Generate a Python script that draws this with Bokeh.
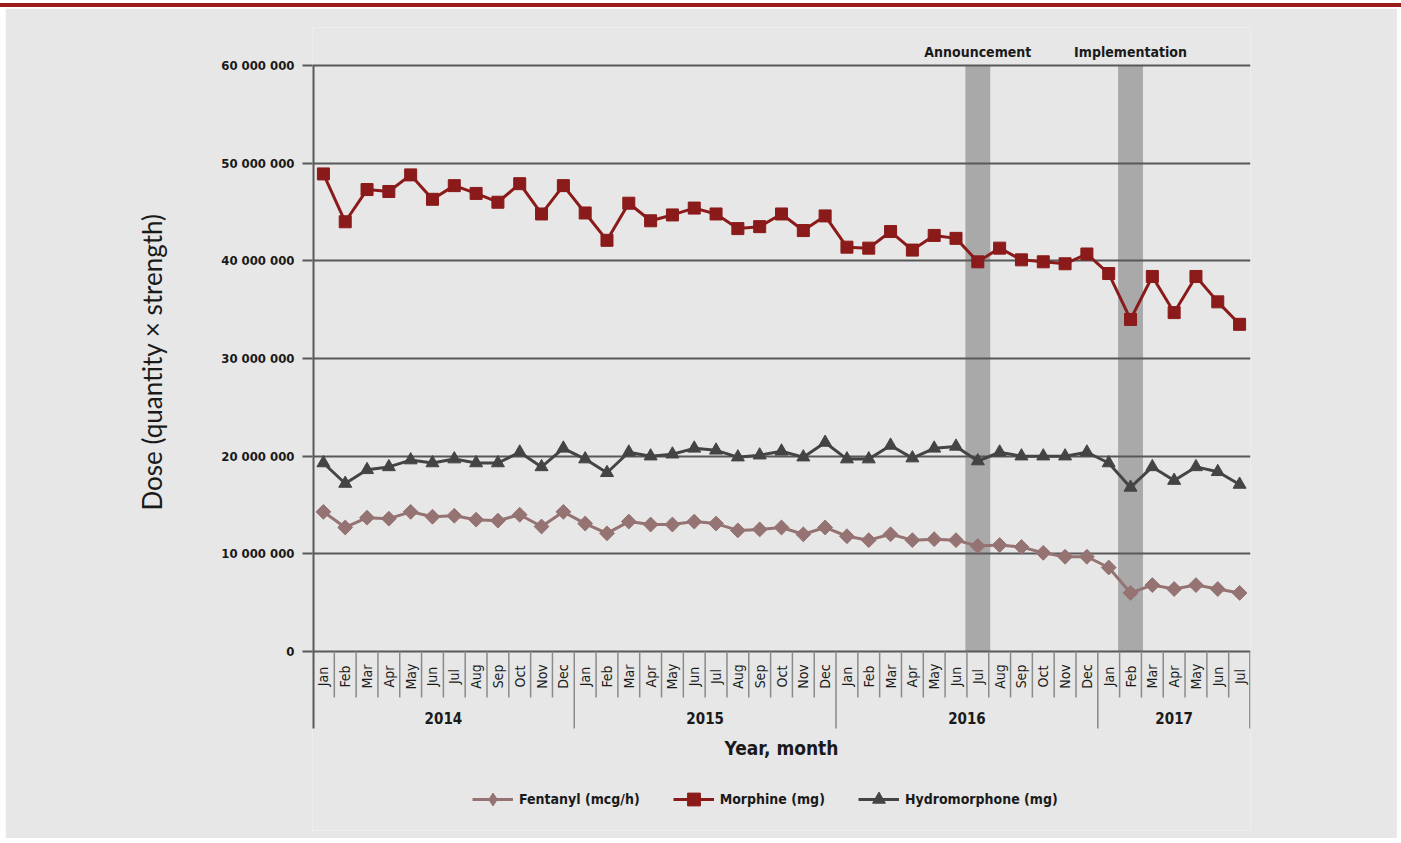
from math import pi
from bokeh.plotting import figure
from bokeh.models import Range1d, FixedTicker, Legend, LegendItem, Title, Div
from bokeh.layouts import column
from bokeh.embed import file_html
from bokeh.resources import INLINE
from bokeh.core.properties import value

# ---------------- data ----------------
years = ["2014", "2015", "2016", "2017"]
months_per_year = [12, 12, 12, 7]
month_names = ["Jan", "Feb", "Mar", "Apr", "May", "Jun",
               "Jul", "Aug", "Sep", "Oct", "Nov", "Dec"]

morphine = [48.9, 44.0, 47.3, 47.1, 48.8, 46.3, 47.7, 46.9, 46.0, 47.9, 44.8, 47.7,
            44.9, 42.1, 45.9, 44.1, 44.7, 45.4, 44.8, 43.3, 43.5, 44.8, 43.1, 44.6,
            41.4, 41.3, 43.0, 41.1, 42.6, 42.3, 39.9, 41.3, 40.1, 39.9, 39.7, 40.7,
            38.7, 34.0, 38.4, 34.7, 38.4, 35.8, 33.5]
hydromorphone = [19.3, 17.2, 18.6, 18.9, 19.6, 19.3, 19.7, 19.3, 19.3, 20.4, 18.9, 20.8,
                 19.7, 18.3, 20.4, 20.0, 20.2, 20.8, 20.6, 19.9, 20.1, 20.5, 19.9, 21.4,
                 19.7, 19.7, 21.1, 19.8, 20.8, 21.0, 19.5, 20.4, 20.0, 20.0, 20.0, 20.4,
                 19.3, 16.8, 18.9, 17.5, 18.9, 18.4, 17.1]
fentanyl = [14.3, 12.7, 13.7, 13.6, 14.3, 13.8, 13.9, 13.5, 13.4, 14.0, 12.8, 14.3,
            13.1, 12.1, 13.3, 13.0, 13.0, 13.3, 13.1, 12.4, 12.5, 12.7, 12.0, 12.7,
            11.8, 11.4, 12.0, 11.4, 11.5, 11.4, 10.8, 10.9, 10.7, 10.1, 9.7, 9.7,
            8.6, 6.0, 6.8, 6.4, 6.8, 6.4, 6.0]
SCALE = 1_000_000  # values above are in millions

y_ticks = [0, 10_000_000, 20_000_000, 30_000_000, 40_000_000, 50_000_000, 60_000_000]
y_tick_labels = ["0", "10 000 000", "20 000 000", "30 000 000",
                 "40 000 000", "50 000 000", "60 000 000"]

event_labels = ["Announcement", "Implementation"]
event_months = [("2016", "Jul"), ("2017", "Feb")]

series_names = ["Fentanyl (mcg/h)", "Morphine (mg)", "Hydromorphone (mg)"]
y_title = "Dose (quantity × strength)"
x_title = "Year, month"

# ---------------- layout / style ----------------
BG = "#e6e7e6"
GRID = "#585858"
SEP = "#8a8a8a"
BAND = "#a9a9a9"
C_MOR = "#8b1a1a"
C_HYD = "#444444"
C_FEN = "#967373"
RED = "#9b1b1b"
TXT = "#1a1a1a"
NARROW = "DejaVu Sans Condensed"
HUMAN = "Lato"

FRAME_W = 938
PX_PER_UNIT = 586 / 60_000_000          # 0..60M spans 586 px
Y_AXIS_TOP = 60_000_000
Y_AXIS_BOTTOM = -77 / PX_PER_UNIT       # axis line / year separators end 77 px below zero
Y_MIN = -179 / PX_PER_UNIT              # frame continues down to hold title + legend
Y_MAX = Y_AXIS_TOP + 38 / PX_PER_UNIT   # room for event labels above
FRAME_H = 179 + 586 + 38

labels = [(y, m) for y, n in zip(years, months_per_year) for m in month_names[:n]]
N = len(labels)
xs = [i + 0.5 for i in range(N)]
mor = [v * SCALE for v in morphine]
hyd = [v * SCALE for v in hydromorphone]
fen = [v * SCALE for v in fentanyl]

p = figure(frame_width=FRAME_W, frame_height=FRAME_H, output_backend="svg",
           toolbar_location=None, tools="", title=None, x_axis_type=None,
           x_range=Range1d(0, N), y_range=Range1d(Y_MIN, Y_MAX),
           min_border_left=307, min_border_right=147, min_border_top=19, min_border_bottom=8,
           margin=(0, 0, 0, 5),
           background_fill_color=BG, border_fill_color=BG, outline_line_color=None)

# y axis (line drawn separately so it stops at the category area)
yax = p.yaxis[0]
yax.ticker = FixedTicker(ticks=y_ticks)
yax.major_label_overrides = {t: s for t, s in zip(y_ticks, y_tick_labels)}
yax.axis_line_color = None
yax.major_tick_line_color = GRID
yax.major_tick_line_width = 2
yax.major_tick_out = 10
yax.major_tick_in = 0
yax.minor_tick_line_color = None
yax.major_label_standoff = 8
yax.major_label_text_font = NARROW
yax.major_label_text_font_style = "bold"
yax.major_label_text_font_size = "13px"
yax.major_label_text_color = TXT
p.segment(x0=[0], x1=[0], y0=[Y_AXIS_BOTTOM], y1=[Y_AXIS_TOP], line_color=GRID, line_width=4)

p.ygrid.ticker = FixedTicker(ticks=y_ticks)
p.ygrid.grid_line_color = GRID
p.ygrid.grid_line_width = 2

p.add_layout(Title(text=y_title, align="left", offset=320, standoff=102, text_font=HUMAN,
                   text_font_size="26px", text_font_style="normal", text_color=TXT), "left")

# event bands and labels
ev_idx = [labels.index(e) for e in event_months]
p.quad(left=[i + 0.5 - 0.57 for i in ev_idx], right=[i + 0.5 + 0.57 for i in ev_idx],
       bottom=0, top=Y_AXIS_TOP, fill_color=BAND, line_color=None, level="image")
p.text(x=[i + 0.5 for i in ev_idx], y=Y_AXIS_TOP + 6 / PX_PER_UNIT, text=event_labels,
       text_align="center", text_baseline="bottom", text_font=value(NARROW),
       text_font_style="bold", text_font_size="14px", text_color=TXT)

# category (month / year) axis
month_sep_bottom = -46 / PX_PER_UNIT
year_bounds = [0]
for n in months_per_year:
    year_bounds.append(year_bounds[-1] + n)
msep = [k for k in range(1, N) if k not in year_bounds]
p.segment(x0=msep, x1=msep, y0=0, y1=month_sep_bottom, line_color=SEP, line_width=1.5)
ysep = year_bounds[1:-1] + [N - 0.03]
p.segment(x0=ysep, x1=ysep, y0=0, y1=Y_AXIS_BOTTOM, line_color=SEP, line_width=1.5)

p.text(x=xs, y=-25 / PX_PER_UNIT, text=[m for _, m in labels], angle=pi / 2,
       text_align="center", text_baseline="middle", text_font=value(NARROW),
       text_font_size="14px", text_color=TXT)
year_centers = [(a + b) / 2 for a, b in zip(year_bounds[:-1], year_bounds[1:])]
p.text(x=year_centers, y=-66.5 / PX_PER_UNIT, text=years, text_align="center",
       text_baseline="middle", text_font=value(NARROW), text_font_style="bold",
       text_font_size="15px", text_color=TXT)
p.text(x=[N / 2], y=[-96 / PX_PER_UNIT], text=[x_title], text_align="center",
       text_baseline="middle", text_font=value(NARROW), text_font_style="bold",
       text_font_size="19px", text_color=TXT)

# series
lm = p.line(xs, mor, line_color=C_MOR, line_width=3)
sm = p.scatter(xs, mor, marker="square", size=12, fill_color=C_MOR, line_color=C_MOR)
lh = p.line(xs, hyd, line_color=C_HYD, line_width=3)
sh = p.scatter(xs, hyd, marker="triangle", size=13, fill_color=C_HYD, line_color=C_HYD)
lf = p.line(xs, fen, line_color=C_FEN, line_width=3)
# diamond key (legend swatches ignore marker angle); fully covered by the rotated squares
sf_key = p.scatter(xs, fen, marker="diamond", size=13, fill_color=C_FEN, line_color=C_FEN)
sf = p.scatter(xs, fen, marker="square", angle=pi / 4, size=10.5, fill_color=C_FEN, line_color=C_FEN)

legend = Legend(items=[LegendItem(label=series_names[0], renderers=[lf, sf_key]),
                       LegendItem(label=series_names[1], renderers=[lm, sm]),
                       LegendItem(label=series_names[2], renderers=[lh, sh])],
                orientation="horizontal", location=(160, 15),
                glyph_width=41, glyph_height=32, label_standoff=6, spacing=33,
                label_text_font=NARROW, label_text_font_style="bold",
                label_text_font_size="14px", label_text_color=TXT,
                background_fill_alpha=0, border_line_color=None, margin=0, padding=8)
p.add_layout(legend, "center")

top_rule = Div(text="", width=1401, height=4, margin=(3, 0, 1, 0),
               styles={"background-color": RED})

layout = column(top_rule, p, spacing=0)
open("out.html", "w").write(file_html(layout, INLINE))
